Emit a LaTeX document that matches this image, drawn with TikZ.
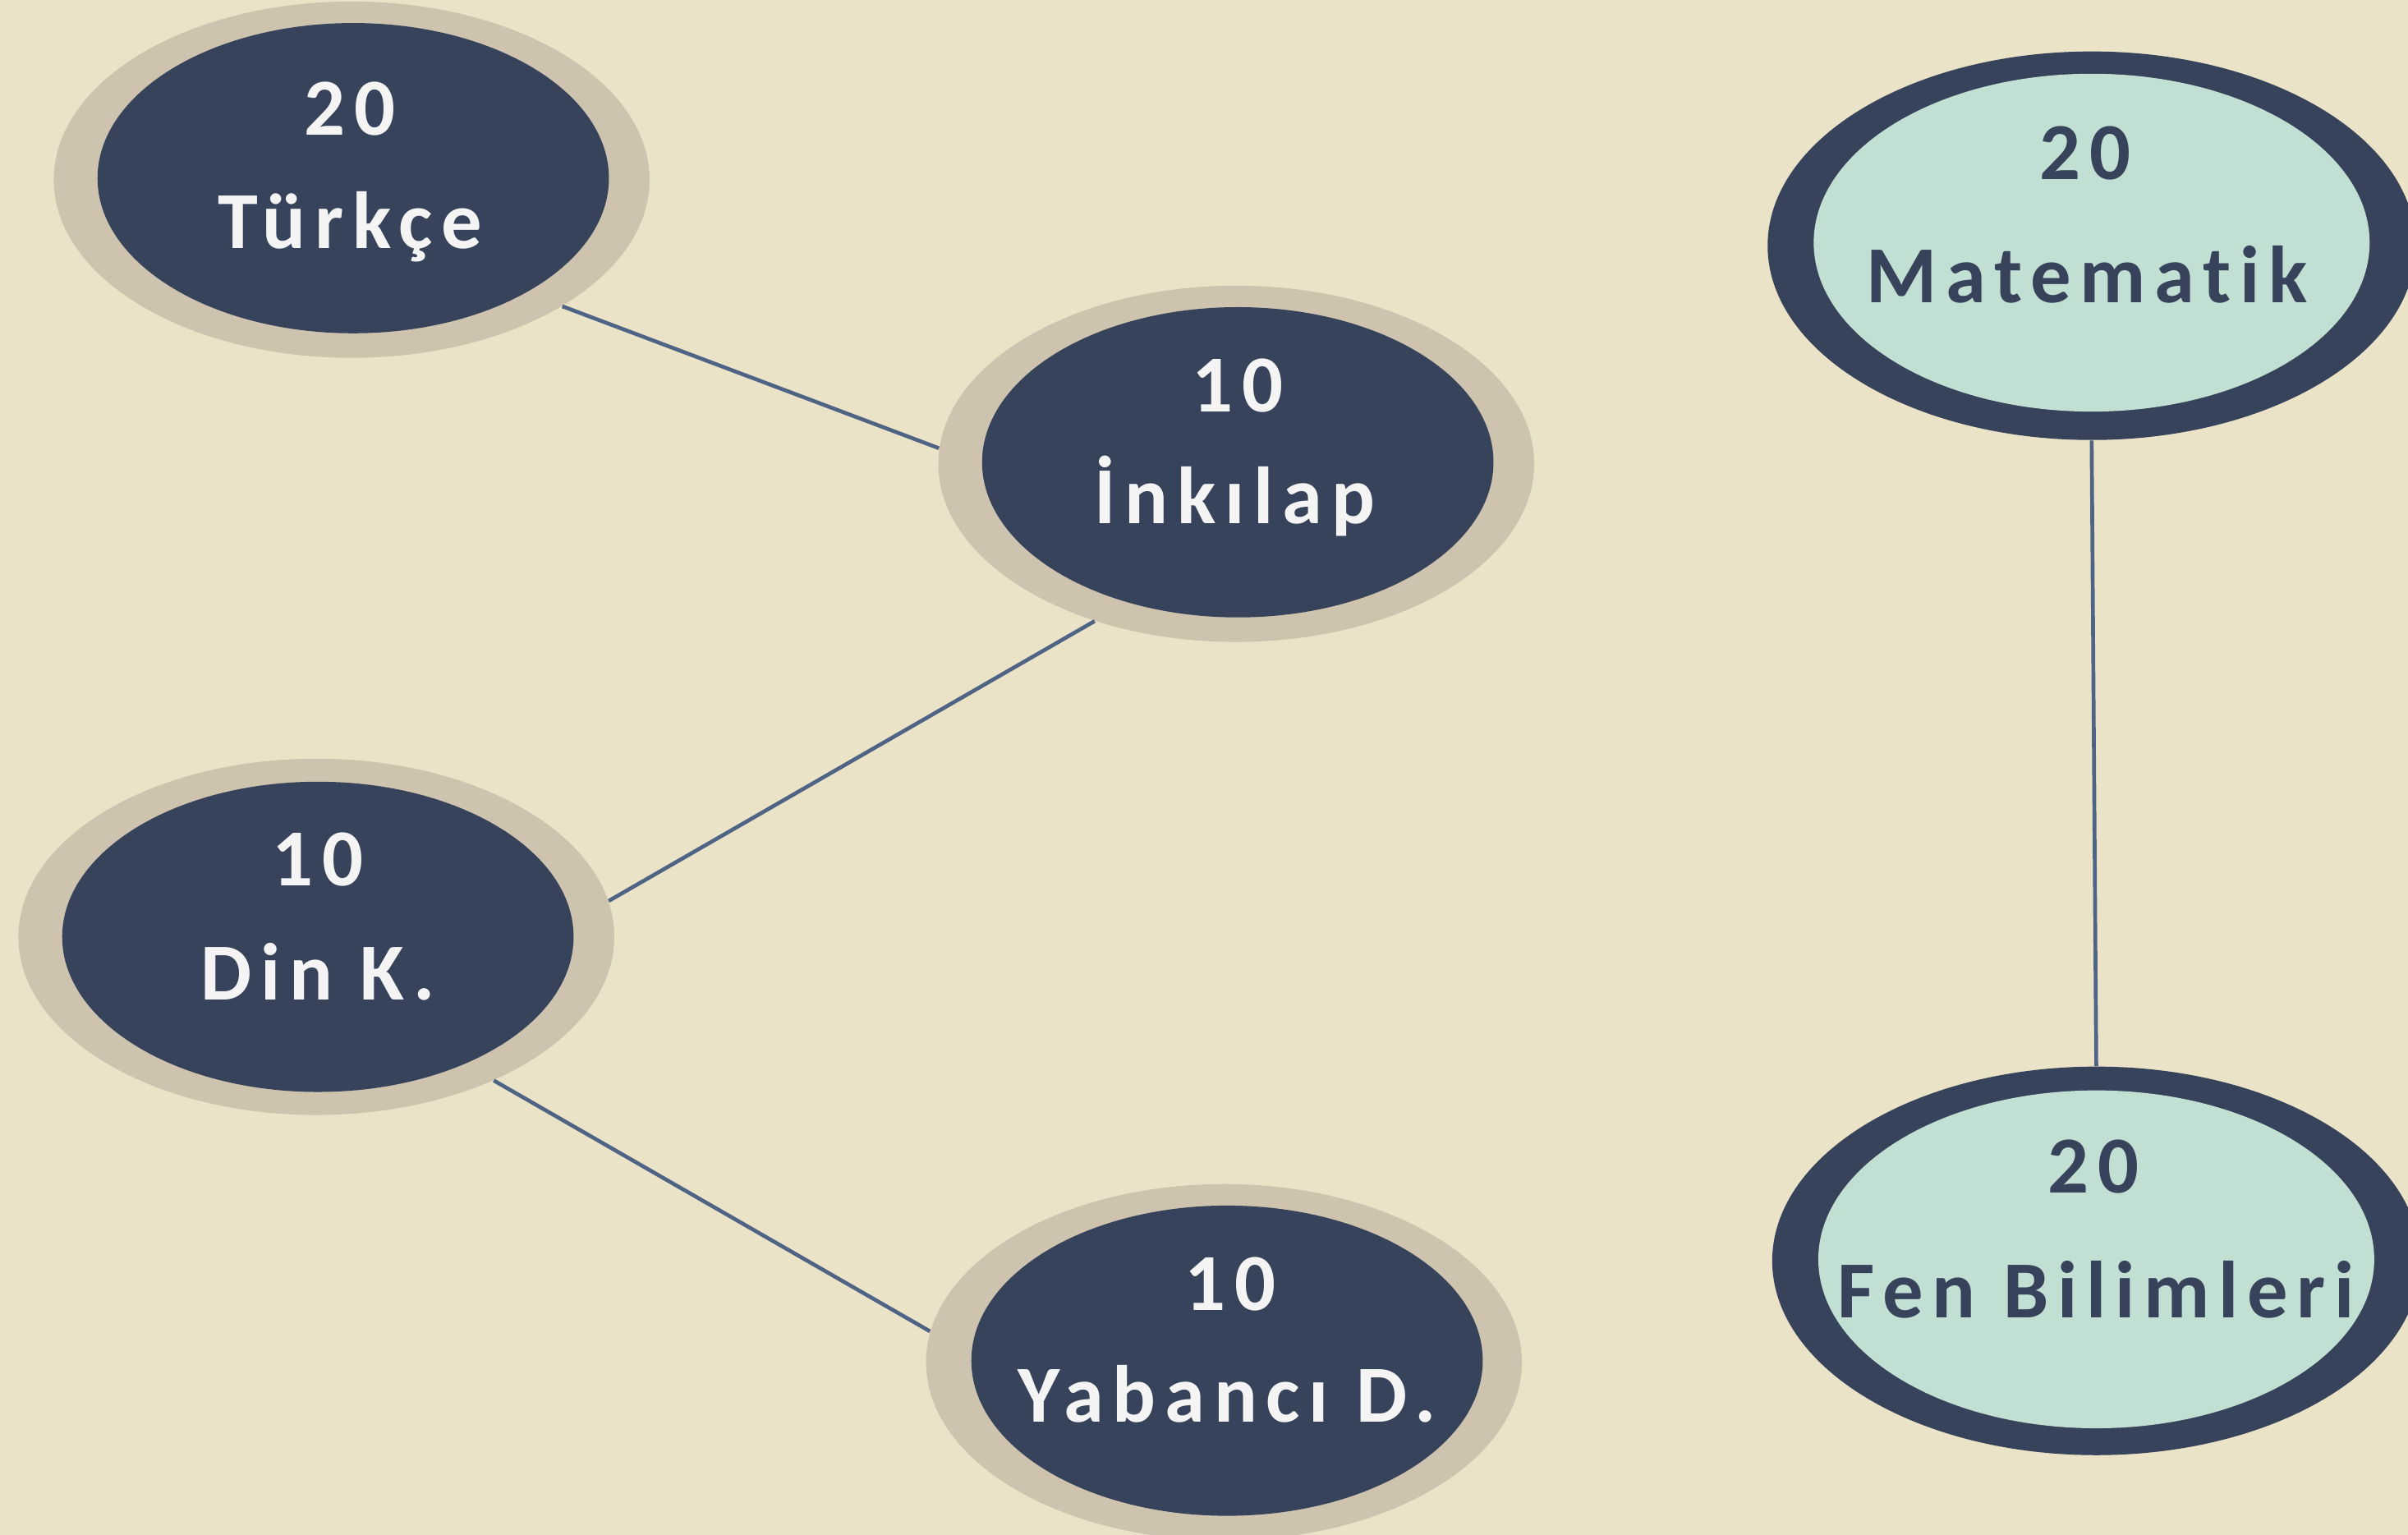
\documentclass[tikz,border=0pt]{standalone}
\usepackage{fontspec}
\newfontfamily\subjfont{Carlito}[LetterSpace=11,Ligatures=NoCommon]
\usepackage{tikz}
\usetikzlibrary{shapes.geometric}
\usepackage{xcolor}
\definecolor{paper}{HTML}{EBE3C7}
\definecolor{rim}{HTML}{CDC3AE}
\definecolor{navy}{HTML}{37435B}
\definecolor{mint}{HTML}{C2DFD3}
\definecolor{ink}{HTML}{4F6385}
\definecolor{snow}{HTML}{F4F4F4}

\begin{document}
\begin{tikzpicture}[x=0.2mm,y=-0.2mm,inner sep=0pt,
    ring/.style={ellipse,fill=rim,minimum width=77.6mm,minimum height=46.4mm},
    core/.style={ellipse,fill=navy,minimum width=66.6mm,minimum height=40.4mm},
    bigring/.style={ellipse,fill=navy,minimum width=84.4mm,minimum height=50.6mm},
    mintcore/.style={ellipse,fill=mint,minimum width=72.4mm,minimum height=44mm},
    lbl/.style={anchor=base,font=\subjfont\bfseries\fontsize{30}{36}\selectfont,text=snow},
    dlbl/.style={lbl,text=navy},
    link/.style={draw=ink,line width=0.5mm}]
    \fill[paper] (0,0) rectangle (1568,999.5);
    \useasboundingbox (0,0) rectangle (1568,999.5);
    % left group
    \node[ring] (tr) at (229,117) {};
    \node[core] (tr0) at (230,116) {};
    \node[lbl] (tr1) at (228,88) {20};
    \node[lbl] (tr2) at (228,162) {Türkçe};
    \node[ring] (in) at (805,302) {};
    \node[core] (in0) at (806,301) {};
    \node[lbl] (in1) at (806,268) {10};
    \node[lbl] (in2) at (804,341) {İnkılap};
    \node[ring] (dk) at (206,610) {};
    \node[core] (dk0) at (207,610) {};
    \node[lbl] (dk1) at (207,577) {10};
    \node[lbl] (dk2) at (207,651) {Din K.};
    \node[ring] (yd) at (797,887) {};
    \node[core] (yd0) at (799,886) {};
    \node[lbl] (yd1) at (801,853) {10};
    \node[lbl] (yd2) at (799,926) {Yabancı D.};
    % right group
    \node[bigring] (mt) at (1362,160) {};
    \node[mintcore] (mt0) at (1362,158) {};
    \node[dlbl] (mt1) at (1358,117) {20};
    \node[dlbl] (mt2) at (1359,197) {Matematik};
    \node[bigring] (fb) at (1365,821) {};
    \node[mintcore] (fb0) at (1365,820) {};
    \node[dlbl] (fb1) at (1363,777) {20};
    \node[dlbl] (fb2) at (1365,858) {Fen Bilimleri};
    \path[link] (tr.-31) -- (in.177);
    \path[link] (in.228) -- (dk.7);
    \path[link] (dk.-39) -- (yd.174);
    \path[link] (mt.south) -- (fb.north);
\end{tikzpicture}
\end{document}
